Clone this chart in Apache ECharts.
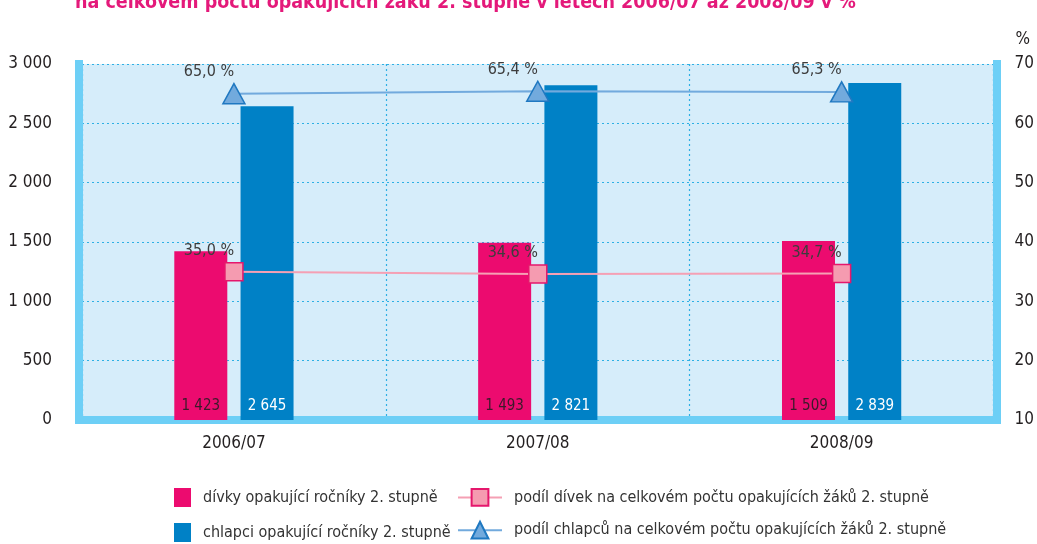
<!DOCTYPE html>
<html>
<head>
<meta charset="utf-8">
<script src="https://cdn.jsdelivr.net/npm/echarts@6/dist/echarts.min.js"></script>
<style>
html, body { margin: 0; padding: 0; background: #fff; }
#chart { width: 1037px; height: 544px; }
</style>
</head>
<body>
<div id="chart"></div>
<script>
// data
var years = ['2006/07', '2007/08', '2008/09'];
var divky = [1423, 1493, 1509];
var chlapci = [2645, 2821, 2839];
var podilDivek = [35.0, 34.6, 34.7];
var podilChlapcu = [65.0, 65.4, 65.3];

var font = "'Liberation Sans Narrow', 'DejaVu Sans Condensed', sans-serif";
var dots = { color: '#2eb0e4', type: [2, 3], width: 1.2 };

function tis(v) {
	var s = String(v);
	return s.length > 3 ? s.slice(0, s.length - 3) + ' ' + s.slice(-3) : s;
}
function pct(v) {
	return v.toFixed(1).replace('.', ',') + ' %';
}

var myChart = echarts.init(document.getElementById('chart'));
var option = {
	animation: false,
	textStyle: { fontFamily: font },
	title: {
		text: 'na celkovém počtu opakujících žáků 2. stupně v letech 2006/07 až 2008/09 v %',
		left: 70,
		top: -12,
		textStyle: { color: '#e4197a', fontSize: 19.5, fontWeight: 'bold', fontFamily: font }
	},
	legend: [{
		orient: 'vertical',
		left: 174,
		top: 488,
		height: 56,
		padding: 0,
		itemGap: 16,
		itemWidth: 17,
		itemHeight: 19,
		icon: 'rect',
		textStyle: { fontSize: 16, color: '#333', fontFamily: font, padding: [0, 0, 0, 7] },
		data: ['dívky opakující ročníky 2. stupně', 'chlapci opakující ročníky 2. stupně']
	}, {
		orient: 'vertical',
		left: 457,
		top: 488,
		height: 56,
		padding: 0,
		itemGap: 14,
		itemWidth: 44,
		itemHeight: 21,
		textStyle: { fontSize: 16, color: '#333', fontFamily: font, padding: [0, 0, 0, 7] },
		data: ['podíl dívek na celkovém počtu opakujících žáků 2. stupně',
			'podíl chlapců na celkovém počtu opakujících žáků 2. stupně']
	}],
	grid: {
		left: 82, right: 42, top: 64, bottom: 124,
		show: true,
		backgroundColor: '#d6edfa',
		borderWidth: 0
	},
	xAxis: {
		type: 'category',
		data: years,
		boundaryGap: true,
		offset: 4,
		axisLine: { lineStyle: { color: '#6dcff6', width: 8, cap: 'square' } },
		axisTick: { show: false },
		axisLabel: { fontSize: 17, color: '#231f20', margin: 11, fontFamily: font },
		splitLine: { show: true, lineStyle: dots }
	},
	yAxis: [{
		type: 'value',
		min: 0, max: 3000, interval: 500,
		offset: 3,
		axisLine: { show: true, lineStyle: { color: '#6dcff6', width: 8, cap: 'square' } },
		axisTick: { show: false },
		axisLabel: { fontSize: 17, color: '#231f20', margin: 27, formatter: tis, fontFamily: font },
		splitLine: { lineStyle: dots }
	}, {
		type: 'value',
		min: 10, max: 70, interval: 10,
		offset: 3,
		name: '%',
		nameGap: 16,
		nameTextStyle: { fontSize: 17, color: '#231f20', align: 'left', padding: [0, 0, 0, 19], fontFamily: font },
		axisLine: { show: true, lineStyle: { color: '#6dcff6', width: 8, cap: 'square' } },
		axisTick: { show: false },
		axisLabel: { fontSize: 17, color: '#231f20', margin: 18, fontFamily: font },
		splitLine: { show: false }
	}],
	series: [{
		name: 'dívky opakující ročníky 2. stupně',
		type: 'bar',
		data: divky,
		barWidth: 53,
		barGap: '25%',
		itemStyle: { color: '#ec0b6f' },
		label: {
			show: true, position: 'insideBottom', distance: 6,
			color: '#3b1a2a', fontSize: 15, formatter: function (p) { return tis(p.value); }
		}
	}, {
		name: 'chlapci opakující ročníky 2. stupně',
		type: 'bar',
		data: chlapci,
		barWidth: 53,
		itemStyle: { color: '#0081c6' },
		label: {
			show: true, position: 'insideBottom', distance: 6,
			color: '#ffffff', fontSize: 15, formatter: function (p) { return tis(p.value); }
		}
	}, {
		name: 'podíl dívek na celkovém počtu opakujících žáků 2. stupně',
		type: 'line',
		yAxisIndex: 1,
		data: podilDivek,
		symbol: 'rect',
		symbolSize: 18,
		z: 5,
		lineStyle: { color: '#f5a0b4', width: 2 },
		itemStyle: { color: '#f59bb0', borderColor: '#e5176c', borderWidth: 1.5 },
		label: {
			show: true, position: 'top', offset: [-25, 0], distance: 3,
			color: '#3d3d3d', fontSize: 16, formatter: function (p) { return pct(p.value); }
		}
	}, {
		name: 'podíl chlapců na celkovém počtu opakujících žáků 2. stupně',
		type: 'line',
		yAxisIndex: 1,
		data: podilChlapcu,
		symbol: 'triangle',
		symbolSize: [22, 20],
		z: 5,
		lineStyle: { color: '#72aadd', width: 2 },
		itemStyle: { color: '#72aadd', borderColor: '#1f78c1', borderWidth: 1.5 },
		label: {
			show: true, position: 'top', offset: [-25, 0], distance: 3,
			color: '#3d3d3d', fontSize: 16, formatter: function (p) { return pct(p.value); }
		}
	}]
};
myChart.setOption(option);
</script>
</body>
</html>
